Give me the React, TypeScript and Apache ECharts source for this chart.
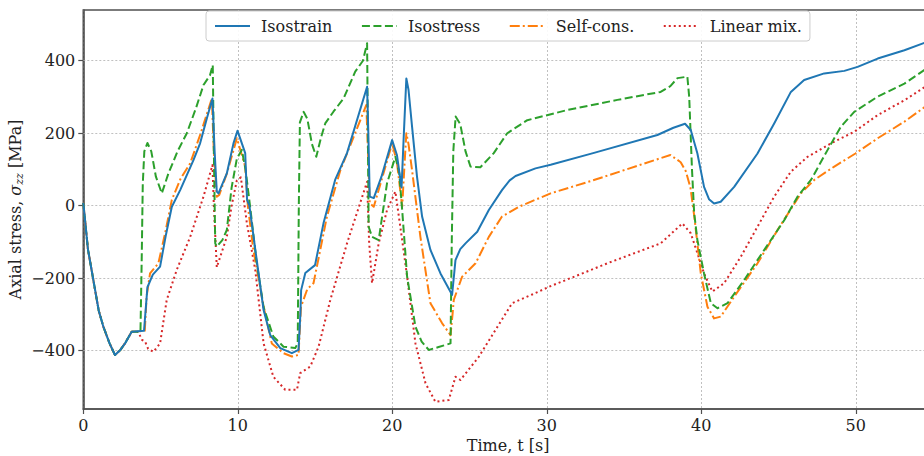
import React, { useEffect, useRef } from "react";
import * as echarts from "echarts";

// shared initial loading segment
const tStart = [0, 0.3, 0.65, 1.0, 1.3, 1.7, 2.05, 2.4, 2.7, 3.13];
const vStart = [8, -120, -205, -290, -334, -380, -412, -398, -380, -348];

const tIsostrain = [3.93, 4.05, 4.15, 4.5, 4.97, 5.35, 5.73, 6.27, 7.13, 7.56, 8.0, 8.36, 8.5, 8.64, 8.75, 9.29, 9.72, 9.98, 10.48, 10.6, 10.75, 11.13, 11.67, 12.1, 12.75, 13.5, 13.93, 14.05, 14.1, 14.37, 15.0, 15.55, 16.3, 17.07, 18.37, 18.45, 18.54, 18.8, 19.3, 19.99, 20.3, 20.6, 20.75, 20.91, 21.05, 21.28, 21.6, 21.93, 22.47, 23.12, 23.87, 24.0, 24.09, 24.4, 24.74, 25.5, 26.25, 27.1, 27.6, 27.98, 29.27, 30.25, 33.0, 37.16, 38.2, 38.95, 39.32, 39.75, 40.18, 40.5, 40.83, 41.26, 42.13, 43.64, 44.72, 45.8, 46.66, 47.96, 49.26, 50.12, 51.42, 53.15, 54.49, 55];
const vIsostrain = [-345, -280, -225, -190, -168, -80, -3, 43, 126, 172, 241, 296, 150, 39, 34, 89, 172, 207, 145, 16, 0, -120, -288, -357, -393, -407, -398, -300, -233, -186, -164, -48, 71, 145, 328, 200, 25, 21, 80, 181, 140, 50, 200, 351, 320, 218, 80, -30, -122, -187, -246, -190, -150, -120, -104, -72, -12, 43, 70, 82, 103, 113, 145, 195, 215, 226, 209, 144, 52, 18, 6, 11, 52, 144, 227, 314, 347, 365, 372, 383, 406, 429, 450, 456];

const tIsostress = [3.7, 3.78, 3.85, 3.95, 4.15, 4.4, 4.7, 5.08, 5.51, 6.1, 6.7, 7.3, 7.78, 8.2, 8.38, 8.45, 8.54, 8.64, 9.0, 9.29, 9.6, 9.94, 10.26, 10.5, 10.8, 11.2, 11.67, 12.3, 12.96, 13.72, 13.88, 13.95, 14.02, 14.26, 14.5, 14.8, 15.08, 15.4, 15.66, 16.2, 16.85, 17.6, 18.1, 18.37, 18.42, 18.47, 18.69, 19.12, 19.66, 20.2, 20.45, 20.64, 20.96, 21.5, 21.9, 22.36, 23.0, 23.77, 23.85, 23.95, 24.1, 24.4, 24.74, 25.06, 25.7, 26.57, 27.44, 28.74, 31.33, 34.57, 37.37, 38.0, 38.46, 39.1, 39.22, 39.4, 39.54, 39.75, 40.18, 40.62, 41.05, 41.7, 42.78, 44.08, 45.37, 46.23, 47.1, 48.18, 49.04, 49.9, 51.42, 53.15, 54.49, 55];
const vIsostress = [-348, -150, 60, 150, 173, 150, 80, 34, 89, 150, 200, 270, 333, 360, 388, 150, -104, -113, -95, -67, 50, 130, 154, 100, -3, -150, -280, -361, -389, -393, -380, 0, 230, 259, 240, 170, 135, 190, 227, 260, 296, 370, 400, 448, 200, -58, -86, -95, 62, 135, 90, -12, -196, -334, -375, -398, -390, -380, -100, 150, 246, 225, 150, 108, 106, 145, 200, 236, 264, 292, 314, 330, 352, 356, 300, 100, -20, -95, -187, -269, -283, -269, -205, -122, -40, 25, 71, 154, 218, 259, 301, 337, 376, 384];

const tSelfCons = [3.98, 4.1, 4.32, 4.86, 5.3, 5.73, 6.3, 6.92, 7.6, 8.32, 8.45, 8.64, 8.8, 9.3, 9.94, 10.48, 10.65, 11.0, 11.67, 12.2, 12.96, 13.5, 13.93, 14.09, 14.5, 14.9, 15.3, 15.77, 16.64, 17.5, 18.32, 18.45, 18.54, 18.8, 19.3, 19.99, 20.3, 20.64, 20.8, 20.91, 21.05, 21.28, 21.82, 22.47, 23.22, 23.77, 23.9, 23.98, 24.52, 25.39, 26.25, 27.1, 28.19, 30.25, 33.0, 38.0, 38.67, 39.0, 39.3, 39.55, 39.97, 40.4, 40.83, 41.26, 42.13, 43.64, 44.94, 46.45, 47.31, 48.61, 49.98, 51.42, 53.15, 54.49, 55];
const vSelfCons = [-345, -250, -187, -159, -75, 16, 75, 117, 200, 296, 150, 25, 30, 90, 186, 108, 0, -120, -279, -380, -407, -416, -412, -279, -230, -214, -130, -30, 98, 190, 278, 120, 7, -3, 70, 172, 120, -3, 120, 200, 170, 98, -86, -269, -324, -357, -300, -260, -196, -159, -86, -30, -3, 34, 70, 140, 120, 95, 50, -30, -187, -279, -311, -306, -251, -159, -67, 34, 71, 108, 144, 186, 232, 273, 280];

const tLinearMix = [3.55, 3.8, 4.0, 4.2, 4.54, 4.97, 5.4, 6.05, 6.92, 7.78, 8.36, 8.45, 8.64, 9.29, 9.6, 9.94, 10.2, 10.59, 11.13, 11.67, 12.3, 13.07, 13.83, 14.04, 14.69, 15.23, 15.99, 17.07, 18.37, 18.5, 18.69, 19.12, 19.66, 20.2, 20.64, 20.96, 21.5, 22.15, 22.79, 23.66, 24.09, 24.41, 25.6, 26.68, 27.76, 29.06, 30.25, 33.92, 37.37, 38.78, 39.32, 39.75, 40.18, 40.72, 41.48, 42.56, 43.64, 44.72, 45.8, 46.88, 48.39, 49.9, 51.42, 53.15, 54.49, 55];
const vLinearMix = [-348, -370, -375, -395, -403, -380, -260, -177, -86, 25, 112, 0, -170, -86, 0, 70, 78, -49, -177, -380, -472, -508, -508, -462, -444, -389, -260, -104, 66, -100, -214, -104, -12, 39, -95, -196, -380, -490, -541, -536, -472, -481, -417, -343, -269, -245, -222, -159, -104, -49, -76, -131, -187, -237, -214, -141, -58, 25, 94, 135, 172, 204, 250, 291, 328, 336];

const yTicks = [-400, -200, 0, 200, 400];
const seriesNames = ["Isostrain", "Isostress", "Self-cons.", "Linear mix."];

const FONT = "DejaVu Serif";

function join(t: number[], v: number[]) {
  const out: number[][] = tStart.map((x, i) => [x, vStart[i]]);
  t.forEach((x, i) => out.push([x, v[i]]));
  return out;
}

export default function App() {
  const ref = useRef<HTMLDivElement>(null);
  useEffect(() => {
    if (!ref.current) return;
    const chart = echarts.init(ref.current, undefined, { renderer: "svg" });
    const mk = (name: string, data: number[][], color: string, type: any, extra: any = {}) => ({
      name,
      type: "line",
      data,
      symbol: "none",
      showSymbol: false,
      smooth: false,
      lineStyle: { color, width: 2, type, cap: "butt", join: "round" },
      itemStyle: { color },
      emphasis: { disabled: true },
      ...extra,
    });
    chart.setOption({
      animation: false,
      grid: {
        left: 83.3,
        top: 10,
        right: -9,
        bottom: 47,
        containLabel: false,
        outerBoundsMode: "none",
        show: true,
        borderColor: "#505050",
        borderWidth: 1.6,
        backgroundColor: "transparent",
      },
      legend: {
        data: seriesNames,
        left: 206,
        top: 11,
        padding: [7, 8],
        itemWidth: 35,
        itemHeight: 14,
        itemGap: 28.5,
        backgroundColor: "rgba(255,255,255,0.9)",
        borderColor: "#cccccc",
        borderWidth: 1,
        borderRadius: 3,
        itemStyle: { opacity: 0 },
        textStyle: { fontFamily: FONT, fontSize: 16, color: "#222", padding: [0, 0, 0, 6] },
      },
      xAxis: {
        type: "value",
        min: 0,
        max: 55,
        interval: 10,
        name: "Time, t [s]",
        nameLocation: "middle",
        nameGap: 28,
        nameMoveOverlap: false,
        nameTextStyle: { fontFamily: FONT, fontSize: 16, color: "#222", verticalAlign: "top" },
        axisLine: { show: true, onZero: false, lineStyle: { color: "#505050", width: 1.6 } },
        axisTick: { show: true, inside: false, length: 5, lineStyle: { color: "#505050", width: 1.2 } },
        axisLabel: { fontFamily: FONT, fontSize: 16, color: "#222", margin: 8, showMaxLabel: false },
        splitLine: { show: true, lineStyle: { color: "#b0b0b0", width: 0.8, type: [2, 2] } },
      },
      yAxis: {
        type: "value",
        min: -561,
        max: 540,
        name: "Axial stress, {i|σ}{s|zz} [MPa]",
        nameLocation: "middle",
        nameRotate: 90,
        nameGap: 58,
        nameMoveOverlap: false,
        nameTextStyle: {
          fontFamily: FONT,
          fontSize: 16,
          color: "#222",
          rich: {
            i: { fontFamily: FONT, fontSize: 16, fontStyle: "italic", color: "#222" },
            s: { fontFamily: FONT, fontSize: 11, fontStyle: "italic", color: "#222", verticalAlign: "bottom", padding: [8, 0, 0, 0] },
          },
        },
        axisLine: { show: true, onZero: false, lineStyle: { color: "#505050", width: 1.6 } },
        axisTick: { show: true, inside: false, length: 5, customValues: yTicks, lineStyle: { color: "#505050", width: 1.2 } },
        axisLabel: {
          fontFamily: FONT,
          fontSize: 16,
          color: "#222",
          margin: 8,
          customValues: yTicks,
          formatter: (v: number) => (v < 0 ? "\u2212" + Math.abs(v) : String(v)),
        },
        splitLine: { show: false },
      },
      series: [
        mk("Isostrain", join(tIsostrain, vIsostrain), "#1f77b4", "solid", {
          z: 5,
          markLine: {
            silent: true,
            symbol: "none",
            z: 1,
            label: { show: false },
            lineStyle: { color: "#b0b0b0", width: 0.8, type: [2, 2] },
            data: yTicks.map((y) => ({ yAxis: y })),
          },
        }),
        mk("Isostress", join(tIsostress, vIsostress), "#2ca02c", [8, 3.5], { z: 4 }),
        mk("Self-cons.", join(tSelfCons, vSelfCons), "#ff7f0e", [10, 3, 2, 3], { z: 3 }),
        mk("Linear mix.", join(tLinearMix, vLinearMix), "#d62728", [2, 3], { z: 2 }),
      ],
    });
    return () => chart.dispose();
  }, []);
  return (
    <div
      ref={ref}
      style={{ position: "absolute", left: 0, top: 0, width: 924, height: 456, background: "#fff" }}
    />
  );
}
